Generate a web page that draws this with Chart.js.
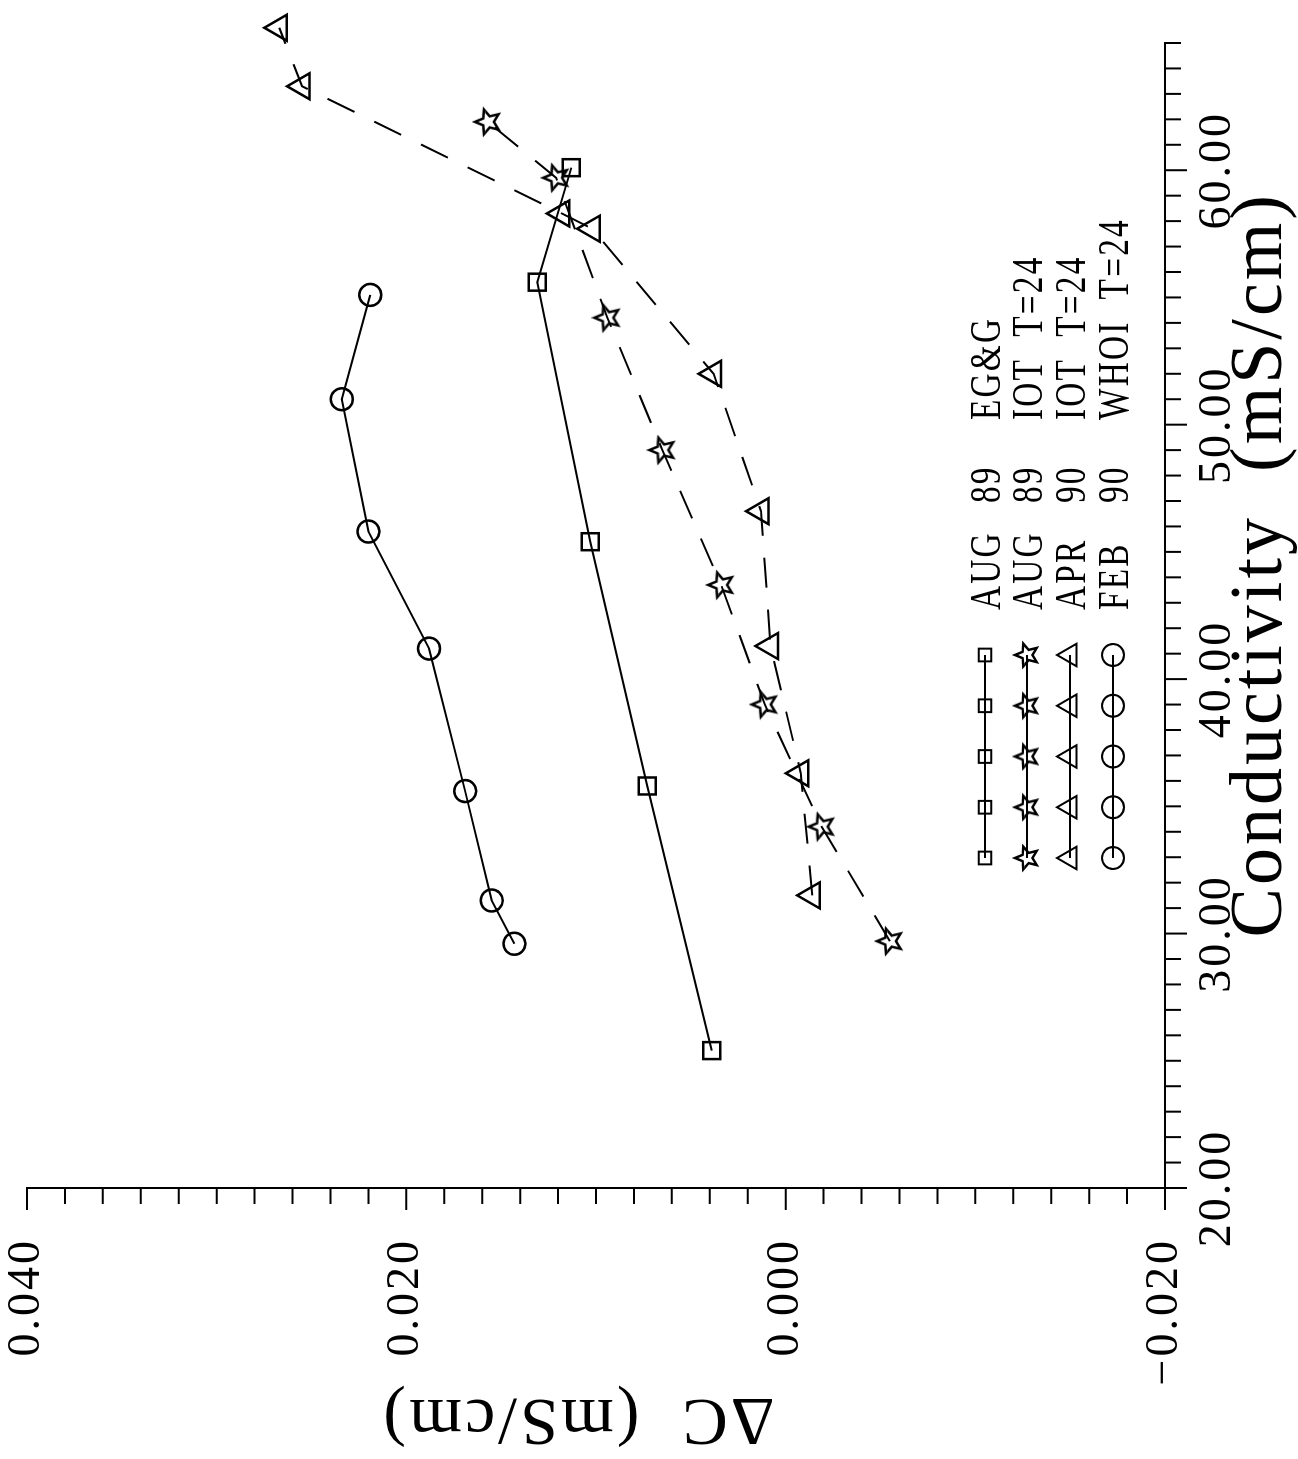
<!DOCTYPE html>
<html>
<head>
<meta charset="utf-8">
<script src="https://cdn.jsdelivr.net/npm/chart.js@4.4.1/dist/chart.umd.min.js"></script>
<style>
  html, body { margin: 0; padding: 0; background: #fff; overflow: hidden; }
  /* the plot is drawn upright, then turned a quarter turn like the scanned page */
  #wrap { position: absolute; left: 0; top: 0; width: 1459px; height: 1298px;
          transform-origin: 0 0; transform: translateY(1459px) rotate(-90deg); }
</style>
</head>
<body>
<div id="wrap"><canvas id="myChart" width="1459" height="1298"></canvas></div>
<script>
// Data
const egCond = [25.4, 35.8, 45.4, 55.6, 60.1];
const egDelta = [0.0039, 0.0073, 0.0103, 0.0131, 0.0113];

const iot89Cond = [29.7, 34.2, 39.0, 43.7, 49.0, 54.2, 59.7, 61.9];
const iot89Delta = [-0.0055, -0.0019, 0.0011, 0.0034, 0.0065, 0.0094, 0.0121, 0.0157];

const iot90Cond = [31.5, 36.3, 41.3, 46.6, 52.0, 57.7, 58.3, 63.3, 65.6];
const iot90Delta = [-0.0014, -0.0008, 0.0008, 0.0013, 0.0038, 0.0102, 0.0118, 0.0255, 0.0267];

const whoiCond = [29.6, 31.3, 35.6, 41.2, 45.8, 51.0, 55.1];
const whoiDelta = [0.0143, 0.0155, 0.0169, 0.0188, 0.0220, 0.0234, 0.0219];

const legendMonth = ['AUG', 'AUG', 'APR', 'FEB'];
const legendYear = ['89', '89', '90', '90'];
const legendSource = ['EG&G', 'IOT  T=24', 'IOT  T=24', 'WHOI  T=24'];

// leading spaces push the centred titles a little off centre, as on the page
const xTitle = '\u2002\u2002 Conductivity  (mS/cm)';
const yTitle = '\u2002\u0394C  (mS/cm)';

Chart.defaults.font.family = '"Liberation Serif", "DejaVu Serif", serif';
Chart.defaults.color = '#000';

// outlined five point star used as a marker
function makeStar(r) {
    const size = Math.ceil(r * 2 + 6);
    const c = document.createElement('canvas');
    c.width = size; c.height = size;
    const g = c.getContext('2d');
    g.lineWidth = 2.5;
    g.strokeStyle = '#000';
    g.lineJoin = 'miter';
    g.beginPath();
    for (let i = 0; i < 10; i++) {
        const rad = (i % 2 === 0) ? r : r * 0.45;
        const a = -Math.PI / 2 + i * Math.PI / 5;
        const px = size / 2 + Math.cos(a) * rad;
        const py = size / 2 + Math.sin(a) * rad;
        if (i === 0) g.moveTo(px, py); else g.lineTo(px, py);
    }
    g.closePath();
    g.stroke();
    return c;
}
const starBig = makeStar(13);
const starSmall = makeStar(12);

function pts(xs, ys) {
    return xs.map((x, i) => ({ x: x, y: ys[i] }));
}

const clear = 'rgba(0,0,0,0)';
const baseSet = {
    borderColor: '#000',
    borderWidth: 2,
    backgroundColor: clear,
    pointBackgroundColor: clear,
    pointBorderColor: '#000',
    pointBorderWidth: 2.5,
    showLine: true,
    tension: 0,
    clip: false
};

const data = {
    datasets: [
        Object.assign({}, baseSet, {
            label: 'AUG 89 EG&G',
            data: pts(egCond, egDelta),
            pointStyle: 'rect',
            pointRadius: 12,
            legendRadius: 9
        }),
        Object.assign({}, baseSet, {
            label: 'AUG 89 IOT T=24',
            data: pts(iot89Cond, iot89Delta),
            pointStyle: starBig,
            pointRadius: 13,
            borderDash: [30, 22],
            legendStyle: starSmall
        }),
        Object.assign({}, baseSet, {
            label: 'APR 90 IOT T=24',
            data: pts(iot90Cond, iot90Delta),
            pointStyle: 'triangle',
            pointRadius: 15,
            borderDash: [30, 22],
            legendRadius: 13
        }),
        Object.assign({}, baseSet, {
            label: 'FEB 90 WHOI T=24',
            data: pts(whoiCond, whoiDelta),
            pointStyle: 'circle',
            pointRadius: 11,
            legendRadius: 11
        })
    ]
};

function isMajor(v, step) {
    return Math.abs(v / step - Math.round(v / step)) < 1e-6;
}

// outward tick marks, long at labelled values
const tickMarks = {
    id: 'tickMarks',
    beforeDraw(chart) {
        chart.ctx.letterSpacing = '3px';
    },
    afterDraw(chart) {
        const ctx = chart.ctx;
        const xs = chart.scales.x, ys = chart.scales.y;
        ctx.save();
        ctx.strokeStyle = '#000';
        ctx.lineWidth = 2;
        ctx.beginPath();
        xs.ticks.forEach(t => {
            const px = xs.getPixelForValue(t.value);
            const len = isMajor(t.value, 10) ? 22 : 16;
            ctx.moveTo(px, xs.top);
            ctx.lineTo(px, xs.top + len);
        });
        ys.ticks.forEach(t => {
            const py = ys.getPixelForValue(t.value);
            const len = isMajor(t.value, 0.02) ? 22 : 16;
            ctx.moveTo(ys.right, py);
            ctx.lineTo(ys.right - len, py);
        });
        ctx.stroke();
        ctx.restore();
    }
};

// legend: five markers on a line, then the text in columns (narrow, tall type)
const seriesLegend = {
    id: 'seriesLegend',
    afterDraw(chart) {
        const ctx = chart.ctx;
        const rows = [1000, 1042, 1085, 1128];
        const x0 = 601, x1 = 804;
        const squeeze = 0.74;
        ctx.save();
        chart.data.datasets.forEach((ds, i) => {
            const yb = rows[i];
            const ym = yb - 15;
            ctx.strokeStyle = '#000';
            ctx.fillStyle = clear;
            ctx.lineWidth = 2;
            ctx.setLineDash([]);
            ctx.beginPath();
            ctx.moveTo(x0, ym);
            ctx.lineTo(x1, ym);
            ctx.stroke();
            for (let k = 0; k < 5; k++) {
                const mx = x0 + k * (x1 - x0) / 4;
                Chart.helpers.drawPoint(ctx, {
                    pointStyle: ds.legendStyle || ds.pointStyle,
                    radius: ds.legendRadius || 10,
                    borderWidth: 2,
                    rotation: 0
                }, mx, ym);
            }
            ctx.fillStyle = '#000';
            ctx.font = '45px "Liberation Serif", "DejaVu Serif", serif';
            ctx.letterSpacing = '3px';
            ctx.textBaseline = 'alphabetic';
            ctx.textAlign = 'left';
            [[legendMonth[i], 849], [legendYear[i], 956], [legendSource[i], 1039]].forEach(([s, x]) => {
                ctx.save();
                ctx.translate(x, yb);
                ctx.scale(squeeze, 1);
                ctx.fillText(s, 0, 0);
                ctx.restore();
            });
        });
        ctx.restore();
    }
};

const config = {
    type: 'scatter',
    data: data,
    options: {
        responsive: false,
        animation: false,
        events: [],
        layout: { padding: { top: 27, right: 43, left: 0, bottom: 0 } },
        plugins: {
            legend: { display: false },
            tooltip: { enabled: false }
        },
        scales: {
            x: {
                type: 'linear',
                min: 20,
                max: 65,
                grid: { display: false, drawTicks: false },
                border: { display: true, color: '#000', width: 2 },
                ticks: {
                    stepSize: 1,
                    autoSkip: false,
                    maxRotation: 0,
                    padding: 25,
                    font: { size: 46 },
                    callback: (v) => isMajor(v, 10) ? v.toFixed(2) : ''
                },
                title: {
                    display: true,
                    text: xTitle,
                    font: { size: 74 },
                    padding: { top: 0, bottom: -8 }
                },
                afterFit: (scale) => {
                    scale.height = 133;
                    scale.paddingLeft = 0;
                    scale.paddingRight = 0;
                }
            },
            y: {
                type: 'linear',
                min: -0.02,
                max: 0.04,
                grid: { display: false, drawTicks: false },
                border: { display: true, color: '#000', width: 2 },
                ticks: {
                    stepSize: 0.002,
                    autoSkip: false,
                    padding: 50,
                    font: { size: 46 },
                    callback: (v) => isMajor(v, 0.02) ? v.toFixed(3).replace('-', '\u2212') : ''
                },
                title: {
                    display: true,
                    text: yTitle,
                    font: { size: 68 },
                    padding: { top: 0, bottom: 0 }
                },
                afterFit: (scale) => {
                    scale.width = 271;
                    scale.paddingTop = 0;
                    scale.paddingBottom = 0;
                }
            }
        }
    },
    plugins: [tickMarks, seriesLegend]
};

const myChart = new Chart(document.getElementById('myChart'), config);
</script>
</body>
</html>
